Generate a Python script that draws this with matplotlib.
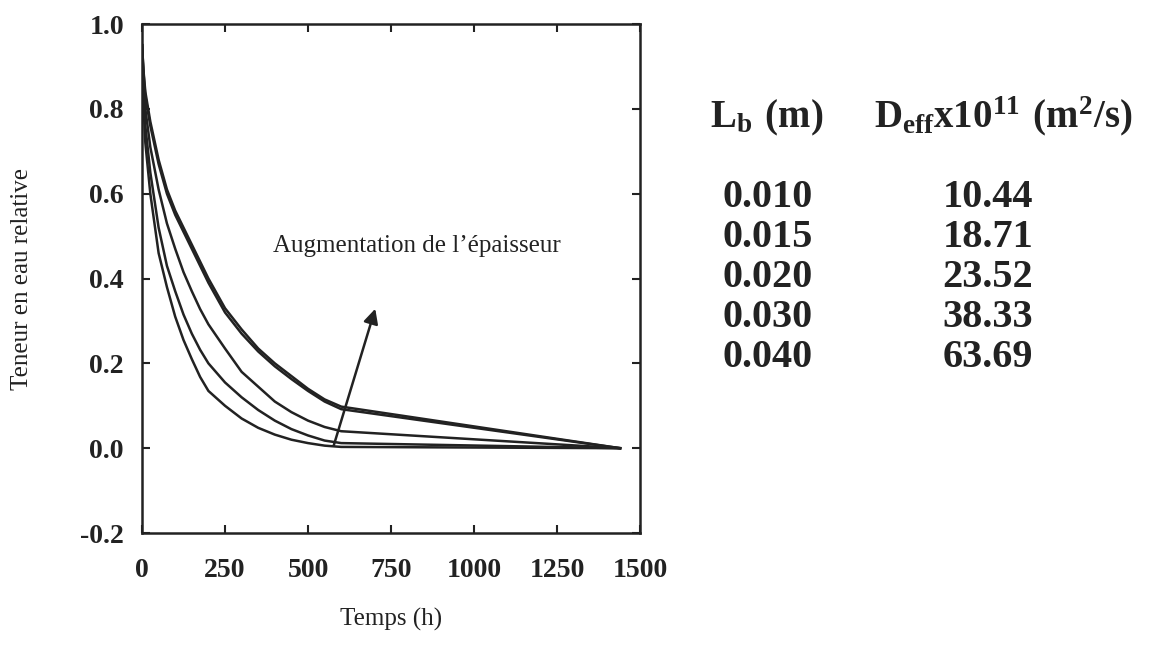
import matplotlib
matplotlib.use("Agg")
import matplotlib.pyplot as plt

plt.rcParams['font.family'] = 'Liberation Serif'
plt.rcParams['axes.unicode_minus'] = False
plt.rcParams['mathtext.fontset'] = 'custom'
plt.rcParams['mathtext.rm'] = 'Liberation Serif'
plt.rcParams['mathtext.bf'] = 'Liberation Serif:bold'

ink = '#222222'

# Time grid (h) and relative water content for each thickness
temps = [0, 5, 10, 25, 50, 75, 100, 125, 150, 175, 200, 250, 300, 350, 400, 450, 500, 550, 600, 1440]
teneur_040 = [0.95, 0.885, 0.84, 0.77, 0.68, 0.61, 0.56, 0.52, 0.48, 0.44, 0.40, 0.33, 0.28, 0.235, 0.20, 0.17, 0.14, 0.115, 0.098, 0.0]
teneur_030 = [0.95, 0.88, 0.83, 0.76, 0.67, 0.60, 0.55, 0.51, 0.47, 0.43, 0.39, 0.32, 0.27, 0.228, 0.193, 0.163, 0.135, 0.11, 0.092, 0.0]
teneur_020 = [0.95, 0.86, 0.80, 0.71, 0.61, 0.53, 0.47, 0.415, 0.37, 0.328, 0.292, 0.235, 0.18, 0.145, 0.11, 0.085, 0.065, 0.05, 0.04, 0.0]
teneur_015 = [0.95, 0.83, 0.76, 0.65, 0.52, 0.43, 0.37, 0.315, 0.27, 0.232, 0.20, 0.155, 0.12, 0.09, 0.065, 0.045, 0.03, 0.018, 0.012, 0.0]
teneur_010 = [0.95, 0.80, 0.72, 0.60, 0.46, 0.38, 0.31, 0.255, 0.21, 0.168, 0.135, 0.10, 0.07, 0.048, 0.032, 0.02, 0.012, 0.006, 0.003, 0.0]

# Table on the right
epaisseurs = ['0.010', '0.015', '0.020', '0.030', '0.040']
d_eff = ['10.44', '18.71', '23.52', '38.33', '63.69']

x_ticks = [0, 250, 500, 750, 1000, 1250, 1500]
y_ticks = [-0.2, 0.0, 0.2, 0.4, 0.6, 0.8, 1.0]

fig = plt.figure(figsize=(11.49, 6.49), dpi=100)
ax = fig.add_axes([0.1236, 0.1787, 0.4334, 0.7843])

for serie in [teneur_040, teneur_030, teneur_020, teneur_015, teneur_010]:
    ax.plot(temps, serie, color=ink, lw=1.8)

ax.set_xlim(0, 1500)
ax.set_ylim(-0.2, 1.0)
ax.set_xticks(x_ticks)
ax.set_yticks(y_ticks)
ax.set_xticklabels([str(v) for v in x_ticks])
ax.set_yticklabels([f"{v:.1f}" for v in y_ticks])
ax.tick_params(axis='both', direction='in', top=True, right=True, length=6, width=1.5,
               labelsize=20, colors=ink)
ax.tick_params(axis='x', pad=18)
ax.tick_params(axis='y', pad=13)
for lab in ax.get_xticklabels() + ax.get_yticklabels():
    lab.set_fontweight('bold')
for sp in ax.spines.values():
    sp.set_linewidth(1.8)
    sp.set_color(ink)

ax.set_xlabel("Temps (h)", fontsize=18, color=ink, labelpad=18)
ax.set_ylabel("Teneur en eau relative", fontsize=18, color=ink)
ax.yaxis.set_label_coords(-0.219, 0.5)

ax.text(828, 0.462, "Augmentation de l\u2019épaisseur", fontsize=18, color=ink,
        ha='center', va='baseline')
ax.annotate('', xy=(705, 0.335), xytext=(575, 0.0),
            arrowprops=dict(arrowstyle='-|>', lw=1.8, color=ink, mutation_scale=22))

# Table of thickness / effective diffusivity
fig.text(767 / 1149, 1 - 127 / 649, r'$\mathbf{L_b\ (m)}$', fontsize=28, color=ink,
         ha='center', va='baseline')
fig.text(1003 / 1149, 1 - 127 / 649, r'$\mathbf{D_{eff}x10^{11}\ (m^2/s)}$', fontsize=28,
         color=ink, ha='center', va='baseline')
for i, (e, d) in enumerate(zip(epaisseurs, d_eff)):
    yb = 1 - (207 + 40 * i) / 649
    fig.text(768 / 1149, yb, e, fontsize=29, fontweight='bold', color=ink, ha='center', va='baseline')
    fig.text(988 / 1149, yb, d, fontsize=29, fontweight='bold', color=ink, ha='center', va='baseline')

fig.savefig("out.png", dpi=100)
